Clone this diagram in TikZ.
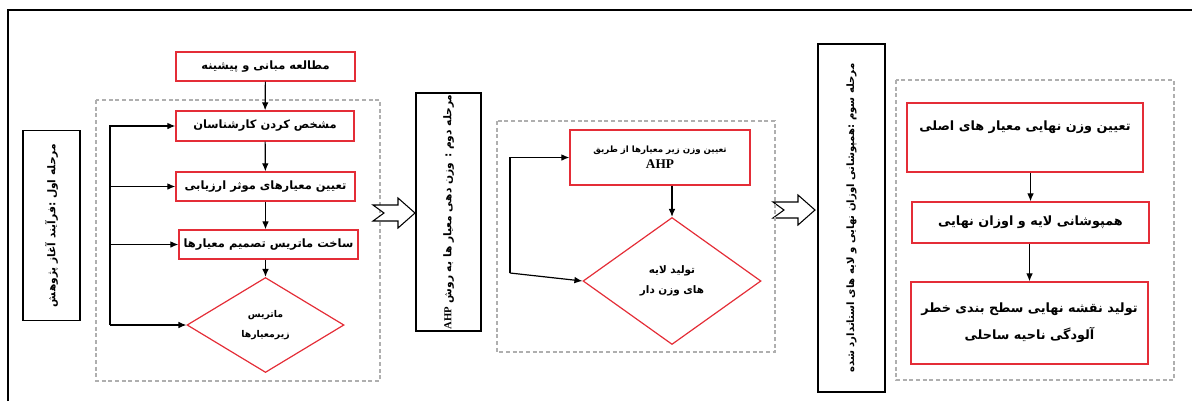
\documentclass[tikz,border=0pt]{standalone}
\usepackage{fontspec}
\usepackage{tikz}
\usetikzlibrary{shapes.geometric,arrows.meta}
\TeXXeTstate=1
\newfontfamily\fa[Script=Arabic]{DejaVu Sans}
\newfontfamily\lat{Liberation Serif}
\newcommand{\px}{0.75pt}
\definecolor{boxred}{RGB}{228,45,55}
\definecolor{dashgray}{RGB}{175,175,175}
\tikzset{
  redbox/.style={draw=boxred, line width=1pt, fill=white, inner sep=1pt, align=center,
    font=\fa\bfseries\fontsize{8.6}{11}\selectfont},
  reddiamond/.style={shape=diamond, draw=boxred, line width=0.9pt, inner sep=0pt, align=center,
    font=\fa\bfseries\fontsize{7}{15}\selectfont},
  stagebox/.style={draw, line width=0.9pt, rotate=90, inner sep=1pt,
    font=\fa\bfseries\fontsize{8}{10}\selectfont},
  groupbox/.style={draw=dashgray, line width=0.8pt, dash pattern=on 3pt off 2pt},
  flow/.style={-{Latex[length=6pt,width=5pt]}, line width=0.9pt}
}
\begin{document}
\begin{tikzpicture}[x=0.75pt, y=-0.75pt]
  \useasboundingbox (0,0) rectangle (1192,401);
  % outer frame
  \draw[line width=0.9pt] (8,401) -- (8,10) -- (1192,10);

  % stage 1
  \node[stagebox, minimum width=190*\px, minimum height=57*\px] (st1) at (51.5,225.5)
    {\beginR مرحله اول :فرآیند آغاز پژوهش\endR};
  \draw[groupbox] (96,100) rectangle (380,381);
  \node[redbox, minimum width=179*\px, minimum height=29*\px] (mot) at (265.5,66.5)
    {\beginR مطالعه مبانی و پیشینه\endR};
  \node[redbox, minimum width=178*\px, minimum height=30*\px] (expt) at (265,126)
    {\beginR مشخص کردن کارشناسان\endR};
  \node[redbox, minimum width=179*\px, minimum height=29*\px] (crit) at (265.5,186.5)
    {\beginR تعیین معیارهای موثر ارزیابی\endR};
  \node[redbox, minimum width=179*\px, minimum height=29*\px] (mat) at (268.5,244.5)
    {\beginR ساخت ماتریس تصمیم معیارها\endR};
  \node[reddiamond, minimum width=157*\px, minimum height=95*\px] (submat) at (265.5,325)
    {\beginR ماتریس\endR\\\beginR زیرمعیارها\endR};
  \draw[flow] (mot) -- (expt);
  \draw[flow] (expt) -- (crit);
  \draw[flow] (crit.south) -- (crit.south |- mat.north);
  \draw[flow] (mat.south -| submat.north) -- (submat.north);
  \coordinate (fb) at (110,325);
  \draw[flow] (fb) |- (expt.west);
  \foreach \n in {crit,mat}
    \draw[flow] (fb |- \n.west) -- (\n.west);
  \draw[flow] (fb) -- (submat.west);

  % hollow arrows between stages
  \foreach \ax/\ay in {373/213, 773/210}{
    \draw[line width=0.8pt, fill=white] (\ax,\ay-8) -- (\ax+25,\ay-8) -- (\ax+25,\ay-15)
      -- (\ax+42,\ay) -- (\ax+25,\ay+15) -- (\ax+25,\ay+8) -- (\ax,\ay+8)
      -- (\ax+11,\ay) -- cycle;
  }

  % stage 2
  \node[stagebox, minimum width=238*\px, minimum height=65*\px] (st2) at (448.5,212)
    {\beginR مرحله دوم : وزن دهی معیار ها به روش \beginL\lat\bfseries AHP\endL\endR};
  \draw[groupbox] (497,121) rectangle (775,352);
  \node[redbox, minimum width=180*\px, minimum height=55*\px,
    font=\fa\bfseries\fontsize{6.5}{12}\selectfont] (ahp) at (660,157.5)
    {\beginR تعیین وزن زیر معیارها از طریق\endR\\{\lat\bfseries\fontsize{10}{12}\selectfont AHP}};
  \node[reddiamond, minimum width=178*\px, minimum height=127*\px,
    font=\fa\bfseries\fontsize{7.8}{15}\selectfont] (layer) at (672,281)
    {\beginR تولید لایه\endR\\\beginR های وزن دار\endR};
  \draw[flow] (ahp.south -| layer.north) -- (layer.north);
  \coordinate (fb2) at (510,273);
  \draw[flow] (fb2) |- (ahp.west);
  \draw[flow] (fb2) -- (layer.west);

  % stage 3
  \node[stagebox, minimum width=348*\px, minimum height=67*\px,
    font=\fa\bfseries\fontsize{7.6}{10}\selectfont] (st3) at (851.5,218)
    {\beginR مرحله سوم :همپوشانی اوزان نهایی و لایه های استاندارد شده\endR};
  \draw[groupbox] (896,80) rectangle (1174,380);
  \node[redbox, minimum width=236*\px, minimum height=69*\px,
    font=\fa\bfseries\fontsize{9.6}{13}\selectfont] (fw) at (1025,137.5)
    {\beginR تعیین وزن نهایی معیار های اصلی\endR\\[5pt]\mbox{}};
  \node[redbox, minimum width=237*\px, minimum height=41*\px,
    font=\fa\bfseries\fontsize{9.6}{13}\selectfont] (ovl) at (1030.5,222.5)
    {\beginR همپوشانی لایه و اوزان نهایی\endR};
  \node[redbox, minimum width=237*\px, minimum height=82*\px,
    font=\fa\bfseries\fontsize{9.6}{20}\selectfont] (risk) at (1029.5,323)
    {\beginR تولید نقشه نهایی سطح بندی خطر\endR\\\beginR آلودگی ناحیه ساحلی\endR};
  \draw[flow] (ovl.north |- fw.south) -- (ovl.north);
  \draw[flow] (ovl.south -| risk.north) -- (risk.north);
\end{tikzpicture}
\end{document}
